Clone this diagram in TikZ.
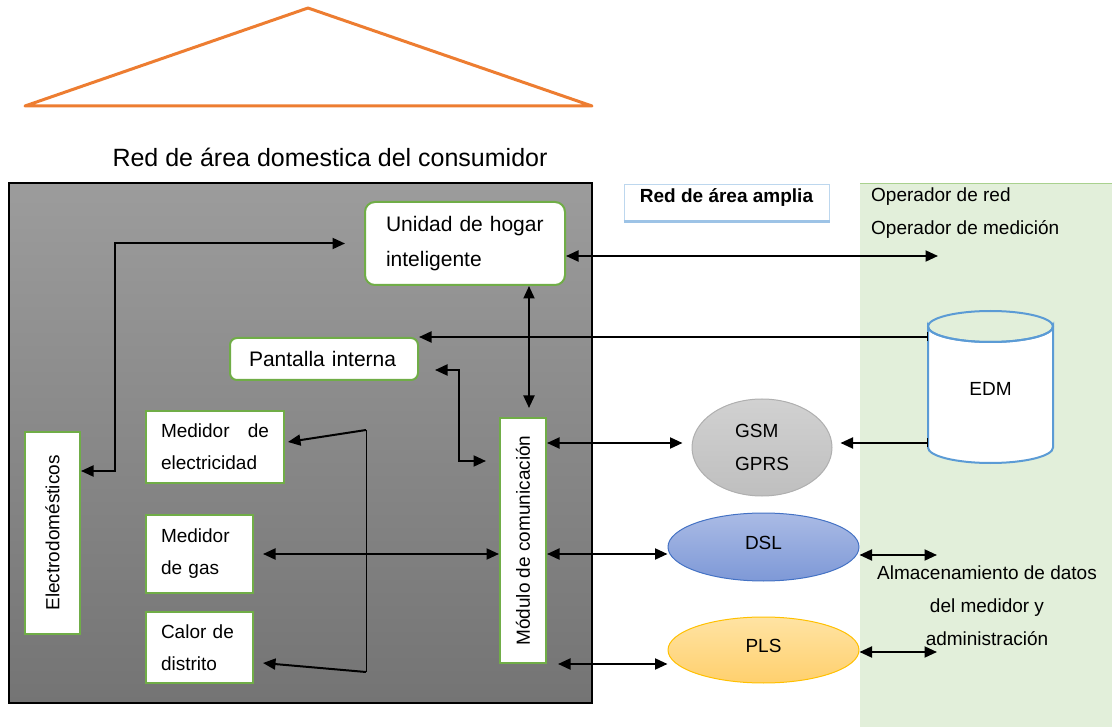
\documentclass[tikz,border=0pt]{standalone}
\usepackage{fontspec}
\setmainfont{Liberation Sans}
\usepackage{graphicx}
\usetikzlibrary{arrows.meta,shapes.geometric,calc}
\definecolor{roof}{HTML}{ED7D31}
\definecolor{grn}{HTML}{70AD47}
\definecolor{gtop}{HTML}{9C9C9C}
\definecolor{gbot}{HTML}{747474}
\definecolor{panel}{HTML}{E2EFDA}
\definecolor{panelline}{HTML}{A9D18E}
\definecolor{wanline}{HTML}{BDD7EE}
\definecolor{wanbot}{HTML}{9DC3E6}
\definecolor{edmline}{HTML}{5B9BD5}
\definecolor{gsmfill}{HTML}{C9C9C9}
\definecolor{gsmline}{HTML}{AFAFAF}
\definecolor{dsltop}{HTML}{AABBE5}
\definecolor{dslbot}{HTML}{7E99D7}
\definecolor{dslline}{HTML}{4472C4}
\definecolor{plstop}{HTML}{FFE3A3}
\definecolor{plsbot}{HTML}{FFD06E}
\definecolor{plsline}{HTML}{FFC000}
\begin{document}
\begin{tikzpicture}[x=1pt,y=-1pt,
  arr/.style={line width=2pt,-{Triangle[length=12.5pt,width=11pt]}},
  dbl/.style={line width=2pt,{Triangle[length=12.5pt,width=11pt]}-{Triangle[length=12.5pt,width=11pt]}},
  barr/.style={line width=2pt,{Bar[width=9pt,line width=1pt]}-{Triangle[length=12.5pt,width=11pt]}},
  wbox/.style={draw=grn,line width=2pt,fill=white,inner ysep=0pt,align=left},
  txtbig/.style={font=\fontsize{21}{35}\selectfont},
  txtsm/.style={font=\fontsize{19}{32}\selectfont},
]
\useasboundingbox (0,0) rectangle (1112,727);

% roof
\draw[roof,line width=3pt,line join=round] (25,106) -- (308,8) -- (592,106) -- cycle;

% right panel
\fill[panel] (860,184) rectangle (1112,727);
\draw[panelline,line width=1pt] (860,184) -- (1112,184);

% title
\node[anchor=base,inner sep=0pt,font=\fontsize{25}{29}\selectfont] (title) at (330,167) {Red de área domestica del consumidor};

% home area
\node[draw=black,line width=1.5pt,top color=gtop,bottom color=gbot,minimum width=583pt,minimum height=520pt,inner sep=0pt] (home) at (300.5,443) {};

% boxes
\node[wbox,txtbig,rounded corners=10pt,minimum width=200pt,minimum height=83pt,text width=158pt,inner xsep=21pt] (unidad) at (465,243.5) {Unidad de hogar\\inteligente};
\node[wbox,txtbig,rounded corners=7pt,minimum width=188pt,minimum height=42pt,text width=150pt,inner xsep=19pt] (pant) at (324,359) {Pantalla interna};
\node[wbox,txtsm,minimum width=138pt,minimum height=72pt,text width=108pt,inner xsep=15pt] (elec) at (215,447) {Medidor\hfill de\\electricidad};
\node[wbox,txtsm,minimum width=107pt,minimum height=78pt,text width=77pt,inner xsep=15pt] (gas) at (199.5,554) {Medidor\\de gas};
\node[wbox,txtsm,minimum width=107pt,minimum height=71pt,text width=77pt,inner xsep=15pt] (calor) at (199.5,647.5) {Calor de\\distrito};
\node[draw=grn,line width=2pt,fill=white,inner sep=0pt,txtsm,minimum width=55pt,minimum height=202pt] (electro) at (52.5,533) {\rotatebox{90}{Electrodomésticos}};
\node[draw=grn,line width=2pt,fill=white,inner sep=0pt,txtsm,minimum width=46pt,minimum height=245pt] (mod) at (523,540.5) {\rotatebox{90}{Módulo de comunicación}};

% wide area label
\node[draw=wanline,line width=1pt,minimum width=205pt,minimum height=36pt,inner ysep=0pt,font=\bfseries\fontsize{19}{23}\selectfont,text height=14pt,text depth=14pt] (wan) at (726.5,203) {Red de área amplia};
\draw[wanbot,line width=3pt] (wan.south west) -- (wan.south east);

% operator texts
\node[anchor=base west,inner sep=0pt,txtsm] (opred) at (871,202) {Operador de red};
\node[anchor=base west,inner sep=0pt,txtsm] (opmed) at (871,234.5) {Operador de medición};
\node[anchor=base,inner sep=0pt,align=center,font=\fontsize{19}{33}\selectfont] (alm) at (987,645) {Almacenamiento de datos\\del medidor y\\administración};

% EDM cylinder
\draw[edmline,line width=2pt,fill=white] (928,326.5) -- (928,447.5) arc[start angle=180,end angle=0,x radius=62.5,y radius=15.5] -- (1053,326.5) arc[start angle=0,end angle=180,x radius=62.5,y radius=15.5] -- cycle;
\draw[edmline,line width=2pt] (990.5,326.5) ellipse[x radius=62.5,y radius=15.5];
\node[txtsm,minimum width=125pt,minimum height=152pt,inner sep=0pt,text height=20pt,text depth=2pt] (edm) at (990.5,387) {EDM};

% networks
\node[ellipse,draw=gsmline,line width=1pt,top color=gsmfill!85!white,bottom color=gsmfill!95!black,minimum width=140pt,minimum height=97pt,inner sep=0pt,align=left,font=\fontsize{19}{32.4}\selectfont] (gsm) at (762,447.5) {GSM\\GPRS};
\node[ellipse,draw=dslline,line width=1pt,top color=dsltop,bottom color=dslbot,minimum width=191pt,minimum height=68pt,inner sep=0pt,txtsm,text height=13.6pt,text depth=9.6pt] (dsl) at (763.5,547) {DSL};
\node[ellipse,draw=plsline,line width=1pt,top color=plstop,bottom color=plsbot,minimum width=191pt,minimum height=66pt,inner sep=0pt,txtsm,text height=13.6pt,text depth=9.6pt] (pls) at (763.5,650) {PLS};

% free ends and bends
\coordinate (opend) at (938,256);
\coordinate (dslend) at (937,555);
\coordinate (plsend) at (937,652);
\coordinate (k1) at (115,471);
\coordinate (k2) at (459,370);
\coordinate (k3) at (459,461);

% connectors
\draw[dbl] (electro.east |- k1) -- (k1) -- (k1 |- unidad.west) -- ($(unidad.west)+(-19,0)$);
\draw[dbl] (unidad.east |- opend) -- (opend);
\draw[dbl] ($(unidad.south)+(64,0)$) -- ($(mod.north)+(6,-9)$);
\draw[barr] (edm.west |- pant.north east) -- (pant.north east);
\draw[dbl] (pant.east |- k2) ++(16,0) -- (k2) -- (k3) -- ($(mod.west |- k3)+(-13,0)$);
\draw[dbl] ($(mod.east)+(0,-97.5)$) -- ($(gsm.west)+(-9,-4.5)$);
\draw[barr] ($(edm.west)+(0,56)$) -- ($(gsm.east)+(8,-4.5)$);
\draw[dbl] ($(gas.east)+(9,0)$) -- (mod.west |- gas.east);
\draw[dbl] (mod.east |- gas.east) -- (dsl.west |- gas.east);
\draw[dbl] ($(mod.south east)+(11,0)$) -- (pls.west |- mod.south east);
\draw[dbl] (dsl.east |- dslend) -- (dslend);
\draw[dbl] (pls.east |- plsend) -- (plsend);

% meter bracket
\coordinate (btop) at (366,430);
\coordinate (bbot) at (366,672);
\draw[line width=1pt] (btop) -- (bbot);
\draw[arr] (btop) -- ($(elec.east)+(3,-5)$);
\draw[arr] (bbot) -- ($(calor.east)+(9,15.5)$);
\end{tikzpicture}
\end{document}
